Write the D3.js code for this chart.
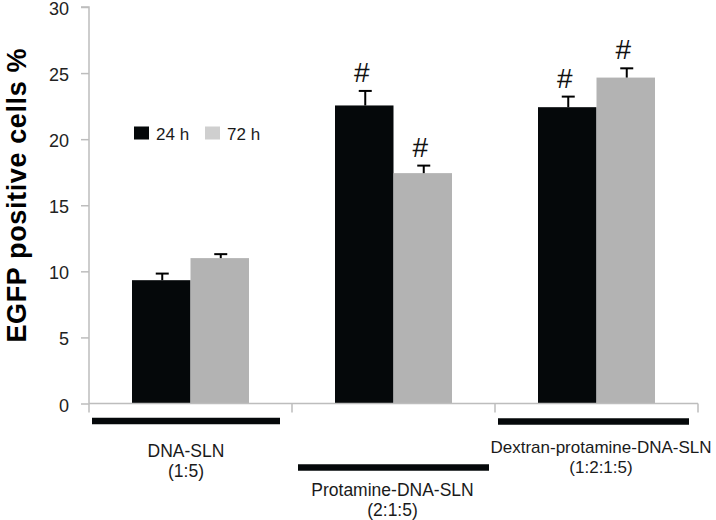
<!DOCTYPE html>
<html>
<head>
<meta charset="utf-8">
<script src="https://cdn.jsdelivr.net/npm/d3@7"></script>
<style>
  html, body { margin: 0; padding: 0; background: #fff; }
  svg { display: block; font-family: Arial, "Liberation Sans", Helvetica, sans-serif; }
</style>
</head>
<body>
<svg id="chart" width="716" height="520"></svg>
<script>
// ---- data ----
const categories = ["DNA-SLN", "Protamine-DNA-SLN", "Dextran-protamine-DNA-SLN"];
const categoryRatios = ["(1:5)", "(2:1:5)", "(1:2:1:5)"];
const series = ["24 h", "72 h"];
const values24h = [9.33, 22.55, 22.42];
const values72h = [11.0, 17.43, 24.66];
const errors24h = [0.5, 1.1, 0.8];
const errors72h = [0.3, 0.57, 0.7];
const significant24h = [false, true, true];
const significant72h = [false, true, true];
const yTicks = [0, 5, 10, 15, 20, 25, 30];
const yLabel = "EGFP positive cells %";

// ---- layout ----
const svg = d3.select("#chart");
const colors = { "24 h": "#05080a", "72 h": "#b3b3b3" };
const legendColors = { "24 h": "#05080a", "72 h": "#cfcfcf" };
const axisColor = "#bdbdbd";

const x0 = d3.scaleBand().domain(categories).range([89, 698]).paddingInner(0).paddingOuter(0);
const x1 = d3.scaleBand().domain(series).range([0, x0.bandwidth()]).paddingInner(0).paddingOuter(0.735);
const y = d3.scaleLinear().domain([0, 30]).range([403.5, 7]);

const rows = [];
categories.forEach((c, i) => {
  rows.push({ cat: c, s: "24 h", v: values24h[i], e: errors24h[i], sig: significant24h[i] });
  rows.push({ cat: c, s: "72 h", v: values72h[i], e: errors72h[i], sig: significant72h[i] });
});

// bars
svg.append("g").selectAll("rect").data(rows).join("rect")
  .attr("x", d => x0(d.cat) + x1(d.s))
  .attr("width", x1.bandwidth())
  .attr("y", d => y(d.v))
  .attr("height", d => y(0) - y(d.v))
  .attr("fill", d => colors[d.s]);

// error bars (upper only)
const eg = svg.append("g").attr("stroke", "#000").attr("stroke-width", 2);
rows.forEach(d => {
  const cx = x0(d.cat) + x1(d.s) + x1.bandwidth() / 2 + 1;
  eg.append("line").attr("x1", cx).attr("x2", cx).attr("y1", y(d.v)).attr("y2", y(d.v + d.e));
  eg.append("line").attr("x1", cx - 6.5).attr("x2", cx + 6.5).attr("y1", y(d.v + d.e)).attr("y2", y(d.v + d.e));
});

// significance marks
svg.append("g").selectAll("text").data(rows.filter(d => d.sig)).join("text")
  .attr("x", d => x0(d.cat) + x1(d.s) + x1.bandwidth() / 2 - 2.5)
  .attr("y", d => y(d.v + d.e) - 9)
  .attr("text-anchor", "middle")
  .attr("font-size", 28)
  .attr("fill", "#111")
  .text("#");

// y axis
const yAxis = d3.axisLeft(y).tickValues(yTicks).tickSize(8).tickPadding(12).tickFormat(d3.format("d"));
const yg = svg.append("g").attr("transform", "translate(89,0)").call(yAxis);
yg.select(".domain").attr("stroke", axisColor).attr("stroke-width", 1.5).attr("d", `M-8,${y(30)}H0V${y(0)}`);
yg.selectAll(".tick line").attr("stroke", axisColor).attr("stroke-width", 1.5);
yg.selectAll(".tick text").attr("font-size", 18).attr("dy", "0.42em").attr("fill", "#222")
  .attr("font-family", "Arial, 'Liberation Sans', sans-serif");

// x axis with category boundary ticks
const xg = svg.append("g");
xg.append("line").attr("x1", x0.range()[0]).attr("x2", x0.range()[1])
  .attr("y1", y(0)).attr("y2", y(0)).attr("stroke", axisColor).attr("stroke-width", 1.5);
const bounds = categories.map(c => x0(c)).concat([x0.range()[1]]);
xg.selectAll("line.b").data(bounds).join("line").attr("class", "b")
  .attr("x1", d => d).attr("x2", d => d)
  .attr("y1", y(0)).attr("y2", y(0) + 9)
  .attr("stroke", axisColor).attr("stroke-width", 1.5);

// category bars and labels (staggered)
const labelBarY = [421, 467.5, 421.5];
const labelBarX = [[92, 280], [298, 489], [498, 689]];
const labelY = [457, 496, 453];
const labelX = [186, 392.5, 601];
const labelSize = [17.5, 17.5, 17];
const lg = svg.append("g");
categories.forEach((c, i) => {
  lg.append("line").attr("x1", labelBarX[i][0]).attr("x2", labelBarX[i][1])
    .attr("y1", labelBarY[i]).attr("y2", labelBarY[i])
    .attr("stroke", "#05080a").attr("stroke-width", 6.5);
  const t = lg.append("text").attr("x", labelX[i]).attr("y", labelY[i])
    .attr("text-anchor", "middle").attr("font-size", labelSize[i]).attr("fill", "#1a1a1a");
  t.append("tspan").attr("x", labelX[i]).text(c);
  t.append("tspan").attr("x", labelX[i]).attr("dy", 19.5).text(categoryRatios[i]);
});

// y axis title
svg.append("text")
  .attr("transform", "translate(25.5,195.5) rotate(-90)")
  .attr("text-anchor", "middle")
  .attr("font-size", 27)
  .attr("font-weight", "bold")
  .attr("fill", "#000")
  .attr("textLength", 294)
  .attr("lengthAdjust", "spacing")
  .text(yLabel);

// legend
const legendX = [134, 205];
const leg = svg.append("g");
series.forEach((s, i) => {
  leg.append("rect").attr("x", legendX[i]).attr("y", 126.5).attr("width", 15).attr("height", 13)
    .attr("fill", legendColors[s]);
  leg.append("text").attr("x", legendX[i] + 22).attr("y", 139.5)
    .attr("font-size", 17).attr("fill", "#1a1a1a").text(s);
});
</script>
</body>
</html>
